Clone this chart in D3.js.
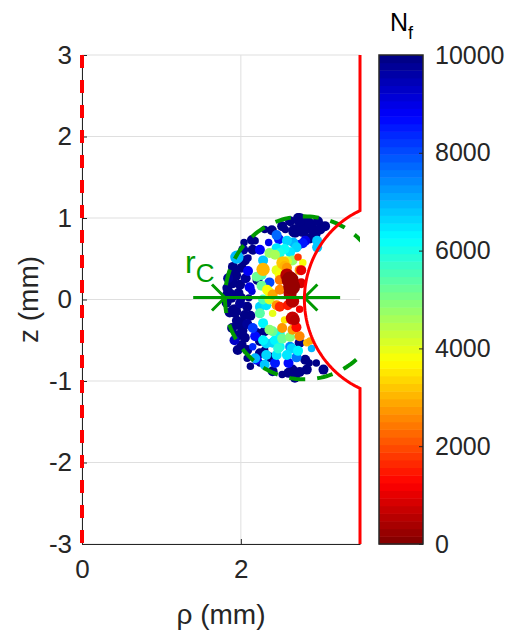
<!DOCTYPE html>
<html><head><meta charset="utf-8">
<script src="https://cdn.jsdelivr.net/npm/d3@7"></script>
<style>
body{margin:0;background:#fff;}
svg{display:block;font-family:"Liberation Sans",Arial,Helvetica,sans-serif;}
</style></head>
<body>
<svg id="chart" width="507" height="635"></svg>
<script>
// ---------- data ----------
const xTicks = [0, 2];
const yTicks = [-3, -2, -1, 0, 1, 2, 3];
const cbTicks = [0, 2000, 4000, 6000, 8000, 10000];
const xDomain = [0, 3.5];
const yDomain = [-3, 3];
const nfDomain = [0, 10000];
// notch geometry (mm)
const notchEdge = 3.5, notchCenter = 4.0, notchRadius = 1.2;
// critical-distance circle and dimension line (mm)
const rcCenter = [2.8, 0.02], rcRadius = 1.0;
const rcLineX = [1.40, 3.25], rcLineZ = 0.025, rcTips = [1.8, 2.8];
// samples: [rho (mm), z (mm), Nf, marker area]
const samples = [
[1.83,0.14,9900,45],[1.82,-0.04,10000,45],[1.84,0.26,9800,45],[1.86,-0.16,9900,45],[1.85,0.06,10000,80],
[1.89,-0.35,10000,45],[1.90,0.40,9900,45],[1.92,0.30,10000,80],[1.92,-0.14,9900,80],[1.92,-0.50,9300,45],
[1.95,-0.26,10000,45],[1.96,-0.44,9900,45],[1.97,0.08,9900,45],[1.99,0.18,10000,45],[1.99,-0.05,9800,45],
[2.01,0.39,9900,45],[2.01,-0.56,10000,45],[2.03,0.61,9800,45],[2.05,0.48,10000,45],[2.05,-0.19,9900,45],
[2.05,-0.47,9900,45],[2.08,-0.09,10000,45],[2.08,-0.30,9800,45],[2.08,-0.62,10000,45],[2.08,-0.72,9900,25],
[2.09,0.51,9800,25],[2.09,0.35,8800,45],[2.11,0.15,9000,45],[2.10,0.02,9900,25],[2.14,0.73,10000,45],
[2.15,0.61,9900,45],[2.14,0.10,9200,25],[2.15,-0.35,8200,45],[2.15,-0.58,8400,25],[2.18,0.72,9900,25],
[2.18,-0.45,8700,45],[2.18,-0.72,7000,45],[2.20,-0.41,10000,45],[2.30,0.86,9900,25],[2.21,0.24,9900,45],
[2.20,-0.74,8700,45],[2.24,0.61,8800,45],[2.24,-0.51,10000,45],[2.24,-0.66,10000,45],[2.24,-0.78,9900,25],
[2.12,-0.20,9900,45],[2.00,0.02,10000,45],[1.88,0.02,10000,45],[2.02,-0.38,10000,45],[1.95,0.52,6900,80],
[2.20,0.28,5300,45],[2.26,0.17,5200,45],[2.26,0.30,5600,45],[2.28,0.37,3000,80],[2.28,0.00,5500,45],
[2.24,-0.09,6600,45],[2.24,-0.17,5400,45],[2.28,-0.29,6300,45],[2.30,-0.39,10000,45],[2.28,-0.50,6400,45],
[2.30,-0.80,6800,45],[2.32,-0.54,6600,45],[2.32,-0.68,6600,45],[2.32,-0.07,6500,45],[2.33,0.12,3900,45],
[2.36,0.21,8000,45],[2.36,0.57,4800,45],[2.36,0.09,3800,45],[2.36,0.00,4200,45],[2.36,-0.37,5000,45],
[2.36,-0.71,10000,45],[2.39,0.85,10000,45],[2.40,0.06,2900,45],[2.40,-0.17,4000,25],[2.40,-0.53,6600,45],
[2.40,-0.39,5300,45],[2.43,0.55,4600,45],[2.43,-0.50,6300,45],[2.43,-0.78,8500,45],[2.45,0.79,7800,45],
[2.45,0.63,6500,45],[2.45,0.36,4000,45],[2.45,-0.07,2800,45],[2.45,-0.68,6500,45],[2.47,-0.60,5800,45],
[2.48,0.74,8500,45],[2.49,0.57,6000,45],[2.49,0.30,3900,45],[2.49,0.24,2500,45],[2.49,0.12,2600,45],
[2.49,-0.09,1600,45],[2.49,-0.41,6200,45],[2.52,-0.48,5200,45],[2.49,-0.58,6200,45],[2.52,-0.35,2700,45],
[2.53,0.45,3200,80],[2.55,-0.25,3500,25],[2.55,0.41,3000,45],[2.56,0.86,9900,25],[2.58,0.72,6700,45],
[2.58,0.47,4200,45],[2.58,0.39,2800,45],[2.58,0.30,600,80],[2.58,-0.68,6500,45],[2.60,-0.78,8600,45],
[2.59,-0.07,1500,45],[2.62,0.96,10000,45],[2.62,0.58,6500,45],[2.62,0.24,300,130],[2.62,0.08,400,80],
[2.62,-0.46,5000,45],[2.62,-0.58,7500,45],[2.64,0.16,200,130],[2.64,-0.60,6600,45],[2.65,0.48,4700,45],
[2.65,-0.02,500,80],[2.65,-0.23,700,80],[2.65,-0.37,2800,45],[2.65,-0.86,10000,45],[2.68,0.84,10000,80],
[2.68,-0.25,500,45],[2.68,-0.96,10000,45],[2.70,0.64,6600,45],[2.70,-0.34,1300,45],[2.70,-0.71,7600,45],
[2.72,1.00,10000,45],[2.72,0.67,8500,45],[2.72,-0.63,6400,45],[2.74,0.36,2800,45],[2.74,-0.45,2600,45],
[2.74,-0.53,10000,45],[2.74,-0.89,10000,45],[2.76,0.36,1000,45],[2.78,0.45,3800,25],[2.78,0.85,10000,80],
[2.78,0.69,8500,45],[2.81,0.72,9000,45],[2.81,-0.74,10000,45],[2.83,-0.86,10000,45],[2.83,-0.53,3000,25],
[2.84,0.96,10000,45],[2.87,0.75,10000,45],[2.90,0.88,10000,45],[2.87,-0.51,2900,25],[2.89,-0.60,6900,25],
[2.91,0.84,10000,45],[2.96,0.64,6800,45],[2.96,0.72,6800,45],[2.97,0.96,10000,45],[3.04,-0.86,10000,45],
[3.06,0.90,10000,45],[2.95,-0.78,10000,25],[2.76,0.20,800,45],[2.74,-0.12,1100,25],[2.72,0.52,1800,25],
[2.55,0.62,6200,45],[2.35,0.70,9000,25],[2.28,0.48,6800,45],[2.52,0.90,10000,45],[2.66,0.70,6900,45],
[2.40,-0.88,10000,45],[2.52,-0.92,10000,25],[2.30,-0.62,10000,25],[1.90,0.20,10000,45],[1.96,-0.62,9900,45],
[2.04,0.70,10000,25],[2.12,-0.82,10000,25],[2.00,-0.30,10000,80],[2.06,0.26,9700,45],[2.74,0.98,10000,80],
[2.86,0.94,10000,45],[3.00,0.86,9900,45],[2.94,0.80,10000,45],[2.60,-0.90,10000,45],[2.86,-0.78,10000,25]
];

// ---------- layout ----------
const svg = d3.select("#chart");
const P = {l: 82, r: 360, t: 55, b: 544};
const CB = {l: 379, r: 423};
const textCol = "#262626";
const x = d3.scaleLinear().domain(xDomain).range([P.l, P.r]);
const y = d3.scaleLinear().domain(yDomain).range([P.b, P.t]);
const cbY = d3.scaleLinear().domain(nfDomain).range([P.b, P.t]);
const rScale = d3.scaleSqrt().domain([0, 130]).range([0, 8.5]);

function jet(t){
  const c = v => Math.max(0, Math.min(1, v));
  return d3.rgb(255*c(1.5-Math.abs(4*t-3)), 255*c(1.5-Math.abs(4*t-2)), 255*c(1.5-Math.abs(4*t-1)));
}
const nLevels = 64;
function nfColor(v){
  const t = 1 - (v - nfDomain[0])/(nfDomain[1]-nfDomain[0]);
  const k = Math.min(nLevels-1, Math.floor(t*nLevels));
  return jet((k+0.5)/nLevels);
}

svg.append("defs").append("clipPath").attr("id","clip")
  .append("rect").attr("x",P.l).attr("y",P.t).attr("width",P.r-P.l).attr("height",P.b-P.t);

// grid
const grid = svg.append("g").attr("stroke","#dfdfdf").attr("stroke-width",1);
xTicks.forEach(v => grid.append("line").attr("x1",x(v)).attr("x2",x(v)).attr("y1",P.t).attr("y2",P.b));
yTicks.forEach(v => grid.append("line").attr("x1",P.l).attr("x2",P.r).attr("y1",y(v)).attr("y2",y(v)));

const plot = svg.append("g").attr("clip-path","url(#clip)");

// scatter
plot.append("g").selectAll("circle")
  .data(samples.slice().sort((a,b)=>b[2]-a[2]))
  .join("circle")
  .attr("cx", d => x(d[0])).attr("cy", d => y(d[1]))
  .attr("r", d => rScale(d[3]))
  .attr("fill", d => nfColor(d[2]));

// dashed rc circle
const circPts = d3.range(0, 361, 2).map(a => {
  const t = a*Math.PI/180;
  return [x(rcCenter[0] + rcRadius*Math.cos(t)), y(rcCenter[1] + rcRadius*Math.sin(t))];
});
const green = "#009900";
plot.append("path").attr("d", d3.line()(circPts)).attr("fill","none")
  .attr("stroke",green).attr("stroke-width",4).attr("stroke-dasharray","16,12");

// dimension line
plot.append("line").attr("x1",x(rcLineX[0])).attr("x2",x(rcLineX[1]))
  .attr("y1",y(rcLineZ)).attr("y2",y(rcLineZ)).attr("stroke",green).attr("stroke-width",3);
const ah = 13;
[[rcTips[0], -1],[rcTips[1], 1]].forEach(([tx, dir]) => {
  const px = x(tx), py = y(rcLineZ);
  plot.append("path").attr("d", `M${px+dir*ah},${py-ah}L${px},${py}L${px+dir*ah},${py+ah}`)
    .attr("fill","none").attr("stroke",green).attr("stroke-width",3);
});

// red notch boundary
const th0 = Math.acos((notchEdge-notchCenter)/notchRadius);
const notchPts = [[notchEdge, yDomain[1]]];
d3.range(0, 101).forEach(i => {
  const t = th0 + (2*Math.PI - 2*th0)*i/100;
  notchPts.push([notchCenter + notchRadius*Math.cos(t), notchRadius*Math.sin(t)]);
});
notchPts.push([notchEdge, yDomain[0]]);
svg.append("path").attr("d", d3.line().x(d=>x(d[0])).y(d=>y(d[1]))(notchPts))
  .attr("fill","none").attr("stroke","#ff0000").attr("stroke-width",3);

// axes
const xAxis = d3.axisBottom(x).tickValues(xTicks).tickSize(-5).tickSizeOuter(0).tickPadding(12).tickFormat(d3.format("d"));
const yAxis = d3.axisLeft(y).tickValues(yTicks).tickSize(-5).tickSizeOuter(0).tickPadding(10).tickFormat(d => d < 0 ? "-" + Math.abs(d) : String(d));
const gx = svg.append("g").attr("transform",`translate(0,${P.b})`).call(xAxis);
const gy = svg.append("g").attr("transform",`translate(${P.l},0)`).call(yAxis);
[gx, gy].forEach(g => {
  g.selectAll("path,line").attr("stroke",textCol).attr("stroke-width",1);
  g.selectAll("text").attr("fill",textCol).style("font-size","26px").style("font-family","Liberation Sans, Arial, sans-serif");
});
gx.selectAll("text").attr("dy","0.85em");

// symmetry axis (red dashed)
svg.append("line").attr("x1",x(0)).attr("x2",x(0)).attr("y1",y(yDomain[1])).attr("y2",y(yDomain[0]))
  .attr("stroke","#ff0000").attr("stroke-width",4).attr("stroke-dasharray","13,12");

// axis labels
svg.append("text").attr("x",(P.l+P.r)/2).attr("y",624).attr("text-anchor","middle")
  .attr("fill",textCol).style("font-size","28px").text("ρ (mm)");
svg.append("text").attr("transform",`translate(38,${(P.t+P.b)/2}) rotate(-90)`).attr("text-anchor","middle")
  .attr("fill",textCol).style("font-size","28px").text("z (mm)");

// r_c label
const rc = svg.append("text").attr("x",185).attr("y",273).attr("fill",green).style("font-size","32px");
rc.append("tspan").text("r");
rc.append("tspan").attr("dy",9).style("font-size","26px").text("C");

// colorbar
const cb = svg.append("g");
const step = (nfDomain[1]-nfDomain[0])/nLevels;
cb.selectAll("rect.band").data(d3.range(nLevels)).join("rect").attr("class","band")
  .attr("x",CB.l).attr("width",CB.r-CB.l)
  .attr("y", i => cbY(nfDomain[0] + (i+1)*step))
  .attr("height", i => cbY(nfDomain[0] + i*step) - cbY(nfDomain[0] + (i+1)*step) + 0.5)
  .attr("fill", i => nfColor(nfDomain[0] + (i+0.5)*step));
cb.append("rect").attr("x",CB.l).attr("y",P.t).attr("width",CB.r-CB.l).attr("height",P.b-P.t)
  .attr("fill","none").attr("stroke",textCol).attr("stroke-width",1.5);
const cbAxis = d3.axisRight(cbY).tickValues(cbTicks).tickSize(-4).tickSizeOuter(0).tickPadding(12).tickFormat(d3.format("d"));
const gcb = svg.append("g").attr("transform",`translate(${CB.r},0)`).call(cbAxis);
gcb.select(".domain").remove();
gcb.selectAll("line").attr("stroke",textCol);
gcb.selectAll("text").attr("fill",textCol).style("font-size","25px");

const nt = svg.append("text").attr("x",390).attr("y",31).attr("fill","#000").style("font-size","25px");
nt.append("tspan").text("N");
nt.append("tspan").attr("dy",8).style("font-size","18px").text("f");
</script>
</body></html>
